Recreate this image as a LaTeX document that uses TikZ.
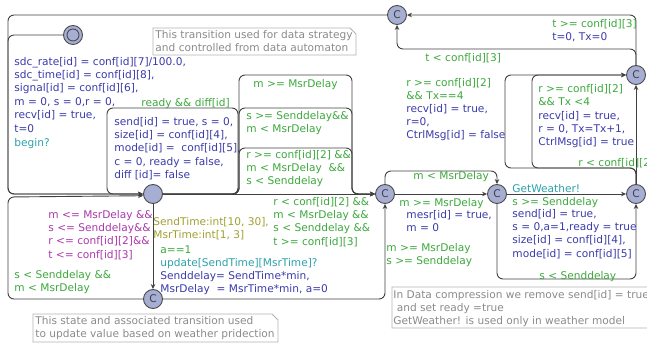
\documentclass[tikz,border=0pt]{standalone}
\usepackage{fontspec}
\setmainfont{DejaVu Sans}
\usepackage{tikz}
\usetikzlibrary{arrows.meta}
\definecolor{guardc}{RGB}{60,168,60}
\definecolor{assignc}{RGB}{58,58,170}
\definecolor{syncc}{RGB}{44,160,170}
\definecolor{invc}{RGB}{170,56,170}
\definecolor{selc}{RGB}{160,160,50}
\definecolor{locc}{RGB}{166,174,212}
\definecolor{notec}{RGB}{138,138,138}

\begin{document}
\begin{tikzpicture}
      [x = 1pt, y = -1pt, line width = .9pt,
       font = \fontsize{10.6}{13.4}\selectfont,
       loc/.style = {circle, draw = black!70, fill = locc, minimum size = 19pt, inner sep = 0pt, text = black!75},
       edge/.style = {draw = black!75, rounded corners = 6pt, -{Stealth[length = 5pt, width = 4.5pt]}},
       lbl/.style = {anchor = north west, yshift = 9.38pt, align = left, inner sep = 0pt,
                     execute at begin node = \strut},
       guard/.style = {lbl, text = guardc},
       assign/.style = {lbl, text = assignc},
       sync/.style = {lbl, text = syncc},
       inv/.style = {lbl, text = invc},
       select/.style = {lbl, text = selc},
       note/.style = {lbl, text = notec},
       notebox/.style = {draw = black!30, line width = .8pt}]
      \useasboundingbox (0,0) rectangle (647,344);
      \node[loc] (init) at (73,35) {};
      \draw[fill = locc, draw = black!70] (init) circle (6pt);
      \node[loc] (topc) at (397,15) {C};
      \node[loc] (idle) at (153,194) {};
      \node[loc] (upd) at (153,299) {C};
      \node[loc] (chk) at (385,194) {C};
      \node[loc] (meas) at (497,194) {C};
      \node[loc] (snd) at (636,194) {C};
      \node[loc] (ctl) at (636,75) {C};
      \coordinate (wl) at (8,194);
      \coordinate (wb) at (8,197);
      \draw[edge] (init) -| (wl) -- (idle);
      \draw[edge] (topc) -| (wl) -- (idle);
      \draw[edge] (idle) -| (238,108) -- (107,108) |- (idle);
      \foreach \y in {75, 108, 148}
        \draw[edge] (idle) -| (239,\y) -- (352,\y) |- (chk);
      \draw[edge] (idle) -- (chk);
      \draw[edge] (idle) -- (upd);
      \draw[edge] (upd) -| (wb) -- (idle.190);
      \draw[edge] (upd) -| (chk);
      \draw[edge] (chk) -- (meas);
      \draw[edge] (chk) |- (441,171) -| (meas);
      \draw[edge] (meas) -- (snd);
      \draw[edge] (meas) |- (566,279) -| (snd);
      \draw[edge] (snd) -- (ctl);
      \foreach \x in {505, 532}
        \draw[edge] (snd) |- (\x,168) |- (ctl);
      \draw[edge] (ctl) |- (topc);
      \draw[edge] (ctl) |- (500,49) -| (topc);
      \node[assign] (initupd) at (14,66) {sdc\_rate[id] = conf[id][7]/100.0,\\ sdc\_time[id] = conf[id][8],\\ signal[id] = conf[id][6],\\ m = 0, s = 0,r = 0,\\ recv[id] = true,\\ t=0};
      \node[sync] (initsync) at (14,146) {begin?};
      \node[guard] (rdyg) at (141,106) {ready \&\& diff[id]};
      \node[assign] (rdya) at (114,126) {send[id] = true, s = 0,\\ size[id] = conf[id][4],\\ mode[id] =\ \ conf[id][5],\\ c = 0, ready = false,\\ diff [id]= false};
      \node[guard] (mg) at (253,87) {m >= MsrDelay};
      \node[guard] (sg) at (246,120) {s >= Senddelay\&\&\\ m < MsrDelay};
      \node[guard] (rg) at (246,159) {r >= conf[id][2] \&\&\\ m < MsrDelay\ \ \&\&\\ s < Senddelay};
      \node[guard] (rlg) at (273,206) {r < conf[id][2] \&\&\\ m < MsrDelay \&\&\\ s < Senddelay \&\&\\ t >= conf[id][3]};
      \node[select] (updsel) at (153,226) {SendTime:int[10, 30],\\ MsrTime:int[1, 3]};
      \node[guard] (updg) at (160,253) {a==1};
      \node[sync] (upds) at (160,266) {update[SendTime][MsrTime]?};
      \node[assign] (upda) at (160,280) {Senddelay= SendTime*min,\\ MsrDelay\ \ = MsrTime*min, a=0};
      \node[inv] (idleinv) at (48,219) {m <= MsrDelay \&\&\\ s <= Senddelay\&\&\\ r <= conf[id][2]\&\&\\ t <= conf[id][3]};
      \node[guard] (backg) at (14,279) {s < Senddelay \&\&\\ m < MsrDelay};
      \node[guard] (chkg) at (386,252) {m >= MsrDelay\\ s >= Senddelay};
      \node[guard] (mesg) at (399,206) {m >= MsrDelay};
      \node[assign] (mesa) at (406,219) {mesr[id] = true,\\ m = 0};
      \node[guard] (nmesg) at (413,179) {m < MsrDelay};
      \node[sync] (gws) at (512,192) {GetWeather!};
      \node[guard] (gwg) at (512,205) {s >= Senddelay};
      \node[assign] (gwa) at (512,218) {send[id] = true,\\ s = 0,a=1,ready = true\\ size[id] = conf[id][4],\\ mode[id] = conf[id][5]};
      \node[guard] (nsg) at (539,279) {s < Senddelay};
      \node[guard] (nrg) at (578,166) {r < conf[id][2]};
      \node[guard] (tx4g) at (406,87) {r >= conf[id][2]\\ \&\& Tx==4};
      \node[assign] (tx4a) at (406,113) {recv[id] = true,\\ r=0,\\ CtrlMsg[id] = false};
      \node[guard] (txg) at (538,93) {r >= conf[id][2]\\ \&\& Tx <4};
      \node[assign] (txa) at (538,120) {recv[id] = true,\\ r = 0, Tx=Tx+1,\\ CtrlMsg[id] = true};
      \node[guard] (tg) at (552,27) {t >= conf[id][3]};
      \node[assign] (ta) at (552,40) {t=0, Tx=0};
      \node[guard] (ntg) at (425,61) {t < conf[id][3]};
      \draw[notebox] (153,28) -- (350,28) -- (356,34) -- (356,55) -- (153,55) -- cycle;
      \node[note] (strnote) at (155,39) {This transition used for data strategy\\ and controlled from data automaton};
      \draw[notebox] (33,314) -- (272,314) -- (278,320) -- (278,342) -- (33,342) -- cycle;
      \node[note] (updnote) at (35,325) {This state and associated transition used\\ to update value based on weather pridection};
      \draw[notebox] (392,287) -- (654,287) -- (660,293) -- (660,328) -- (392,328) -- cycle;
      \node[note] (cmpnote) at (393,299) {In Data compression we remove send[id] = true\\ \ and set ready =true\\ GetWeather! is used only in weather model};
\end{tikzpicture}
\end{document}
